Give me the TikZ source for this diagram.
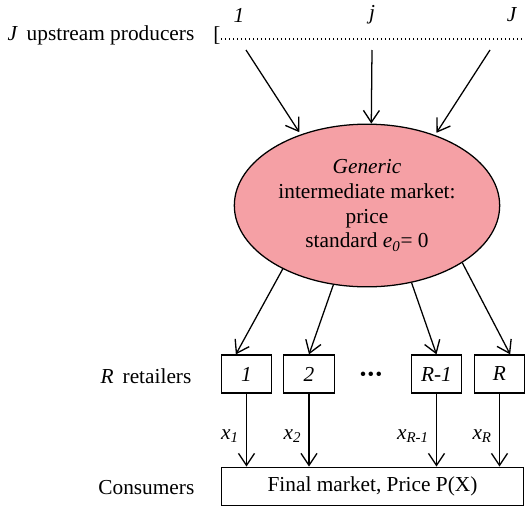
\documentclass[tikz,border=0pt]{standalone}
\usepackage{fontspec}
\setmainfont{Liberation Serif}
\usepackage{tikz}
\usetikzlibrary{arrows, arrows.meta, shapes.geometric, positioning}

\definecolor{marketpink}{RGB}{245,160,165}

\begin{document}
\begin{tikzpicture}[x=0.75pt,y=-0.75pt,
        font=\fontsize{16}{18.5}\selectfont,
        >={Straight Barb[length=9pt,width=12pt,line width=1pt]},
        line width=0.95pt,
        market/.style={ellipse,draw,fill=marketpink,inner sep=0pt,
            minimum width=199pt,minimum height=122pt,align=center},
        retailer/.style={rectangle,draw,minimum width=38pt,minimum height=28.5pt,inner sep=0pt},
        final/.style={rectangle,draw,minimum width=227pt,minimum height=29pt,inner sep=0pt},
        side/.style={anchor=east,inner sep=0pt}]
        \useasboundingbox (0,0) rectangle (525,507);

        % upstream producers
        \node[side]   (upl)   at (195,35)    {\textit{J}\, upstream producers};
        \node[inner sep=0pt]  (brk)  at (217,36)  {[};
        \coordinate (dend) at (524,39);
        \draw[dotted,line width=1pt] (221,39) -- (dend);
        \node[inner sep=0pt]  (p1)   at (239,15)  {\textit{1}};
        \node[inner sep=0pt]  (pj)   at (372,15)  {\textit{j}};
        \node[inner sep=0pt]  (pJ)   at (512,15)  {\textit{J}};
        \coordinate (u1) at (246,50);
        \coordinate (uj) at (372,50);
        \coordinate (uJ) at (490,50);

        % intermediate market
        \node[market]   (mkt)   at (367,205.5)
            {\textit{Generic}\\intermediate market:\\price\hspace{1.2em}\\standard \textit{e}\textsubscript{\textit{0}}= 0};

        % retailers
        \node[side]   (retl)   at (192,376)   {\textit{R}\, retailers};
        \node[retailer]   (r1)   at (246.5,374)   {\textit{1}};
        \node[retailer]   (r2)   at (309,374)     {\textit{2}};
        \node   (rdots)   at (371,376)   {\fontsize{14}{15}\selectfont\textbullet\kern1pt\textbullet\kern1pt\textbullet};
        \node[retailer]   (rm)   at (436.5,374)   {\textit{R-1}};
        \node[retailer]   (rR)   at (499.5,374)   {\textit{R}};

        % consumers
        \node[side]   (conl)   at (195,488)   {Consumers};
        \node[final]   (fin)   at (372.5,486.5)   {Final market, Price P(X)};

        \path[->]   (u1) edge[shorten >=2pt] (mkt.133)
        (uj) edge (mkt.87)
        (uJ) edge[shorten >=2pt] (mkt.46)
        (mkt.217) edge ([xshift=-8pt]r1.north)
        (mkt.247) edge (r2.north)
        (mkt.300) edge (rm.north)
        (mkt.329) edge ([xshift=8pt]rR.north)
        ;

        \path[->]   (r1) edge node[pos=0.58,left=2pt] {\textit{x}\textsubscript{\textit{1}}} (r1 |- fin.north)
        (r2) edge node[pos=0.58,left=2pt] {\textit{x}\textsubscript{\textit{2}}} (r2 |- fin.north)
        (rm) edge node[pos=0.58,left=2pt] {\textit{x}\textsubscript{\textit{R-1}}} (rm |- fin.north)
        (rR) edge node[pos=0.58,left=2pt] {\textit{x}\textsubscript{\textit{R}}} (rR |- fin.north)
        ;
    \end{tikzpicture}
\end{document}
